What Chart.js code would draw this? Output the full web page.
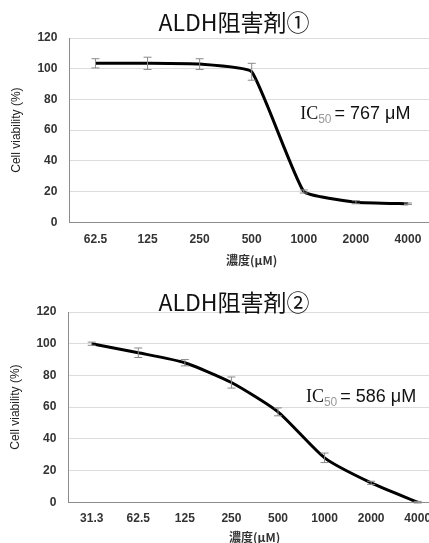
<!DOCTYPE html>
<html>
<head>
<meta charset="utf-8">
<script src="https://cdn.jsdelivr.net/npm/chart.js@4.4.1/dist/chart.umd.min.js"></script>
<style>
  html, body { margin: 0; padding: 0; background: #fff; overflow: hidden; width: 429px; height: 543px; }
  .box { position: absolute; left: 0; }
  #box1 { top: 0; width: 434px; height: 270px; }
  #box2 { top: 274px; width: 441px; height: 271px; }
</style>
</head>
<body>
<div class="box" id="box1"><canvas id="chart1"></canvas></div>
<div class="box" id="box2"><canvas id="chart2"></canvas></div>
<script>
const yTicks = [0, 20, 40, 60, 80, 100, 120];

const doses1 = ["62.5", "125", "250", "500", "1000", "2000", "4000"];
const viability1 = [103.5, 103.5, 103, 98, 20, 13, 12];
const errors1 = [3, 4, 3.5, 5.5, 1, 1, 0.5];

const doses2 = ["31.3", "62.5", "125", "250", "500", "1000", "2000", "4000"];
const viability2 = [100, 94.3, 88, 75.5, 57, 28, 12.2, 0];
const errors2 = [1, 3, 2, 3.5, 2.5, 3, 1, 0.5];

const titles = ["ALDH阻害剤①", "ALDH阻害剤②"];
const ic50Values = ["767", "586"];

const sans = "'Liberation Sans', Arial, sans-serif";

// error bars drawn through the scales
const errorBars = {
  id: "errorBars",
  afterDatasetsDraw(chart, args, opts) {
    const { ctx, scales: { x, y } } = chart;
    const vals = chart.data.datasets[0].data;
    ctx.save();
    ctx.strokeStyle = "#8a8a8a";
    ctx.lineWidth = 1;
    vals.forEach((v, i) => {
      const e = opts.errors[i];
      const px = x.getPixelForValue(i);
      const top = y.getPixelForValue(v + e);
      const bot = y.getPixelForValue(v - e);
      ctx.beginPath();
      ctx.moveTo(px, top); ctx.lineTo(px, bot);
      ctx.moveTo(px - 4, top); ctx.lineTo(px + 4, top);
      ctx.moveTo(px - 4, bot); ctx.lineTo(px + 4, bot);
      ctx.stroke();
    });
    ctx.restore();
  }
};

// title and IC50 text
const labels = {
  id: "labels",
  afterDraw(chart, args, opts) {
    const { ctx, scales: { x, y } } = chart;
    ctx.save();
    ctx.fillStyle = "#111";
    ctx.textAlign = "center";
    ctx.textBaseline = "middle";
    ctx.font = "23px 'Noto Sans CJK JP', sans-serif";
    ctx.fillText(opts.title, 234, opts.titleY);

    let px = x.getPixelForValue(opts.icX);
    const py = y.getPixelForValue(opts.icY);
    ctx.textAlign = "left";
    ctx.textBaseline = "alphabetic";
    ctx.font = "18px 'Liberation Serif', serif";
    ctx.fillText("IC", px, py);
    px += ctx.measureText("IC").width;
    ctx.fillStyle = "#999";
    ctx.font = "12px " + sans;
    ctx.fillText("50", px, py + 4);
    px += ctx.measureText("50").width + 3;
    ctx.fillStyle = "#111";
    ctx.font = "18px " + sans;
    ctx.fillText("= " + opts.ic + " μM", px, py);
    ctx.restore();
  }
};

function makeChart(id, doses, values, errors, title, ic, opt) {
  return new Chart(document.getElementById(id), {
    type: "line",
    data: {
      labels: doses,
      datasets: [{
        data: values,
        borderColor: "#000",
        borderWidth: 3,
        pointRadius: 0,
        tension: opt.tension,
        fill: false
      }]
    },
    options: {
      responsive: true,
      maintainAspectRatio: false,
      animation: false,
      layout: { padding: opt.padding },
      plugins: {
        legend: { display: false },
        tooltip: { enabled: false },
        errorBars: { errors: errors },
        labels: { title: title, titleY: opt.titleY, ic: ic, icX: opt.icX, icY: opt.icY }
      },
      scales: {
        x: {
          offset: true,
          grid: { display: false, drawTicks: false, tickLength: 0 },
          border: { display: true, color: "#8c8c8c", width: 1 },
          ticks: { color: "#333", font: { family: sans, size: 12, weight: "bold" }, padding: opt.tickPad, maxRotation: 0 },
          title: { display: true, text: "濃度(μM)", color: "#333", font: { family: "'Noto Sans CJK JP', sans-serif", size: 12, weight: "bold" }, padding: { top: opt.titlePad, bottom: 0 } }
        },
        y: {
          min: 0, max: 120,
          afterBuildTicks: (s) => { s.ticks = yTicks.map(v => ({ value: v })); },
          grid: { color: "#dcdcdc", drawTicks: false },
          border: { display: true, color: "#8c8c8c", width: 1 },
          ticks: { color: "#333", font: { family: sans, size: 12, weight: "bold" }, padding: 12 },
          title: { display: true, text: "Cell viability (%)", color: "#222", font: { family: sans, size: 12 }, padding: { top: 0, bottom: 2 } }
        }
      }
    },
    plugins: [errorBars, labels]
  });
}

makeChart("chart1", doses1, viability1, errors1, titles[0], ic50Values[0],
  { padding: { top: 38, left: 9, right: 0, bottom: 2 }, titleY: 22, icX: 3.93, icY: 67.5,
    tickPad: 10, titlePad: -3, tension: 0.12 });
makeChart("chart2", doses2, viability2, errors2, titles[1], ic50Values[1],
  { padding: { top: 38, left: 8, right: 0, bottom: 0 }, titleY: 28, icX: 4.6, icY: 63,
    tickPad: 9, titlePad: -4, tension: 0.2 });
</script>
</body>
</html>
